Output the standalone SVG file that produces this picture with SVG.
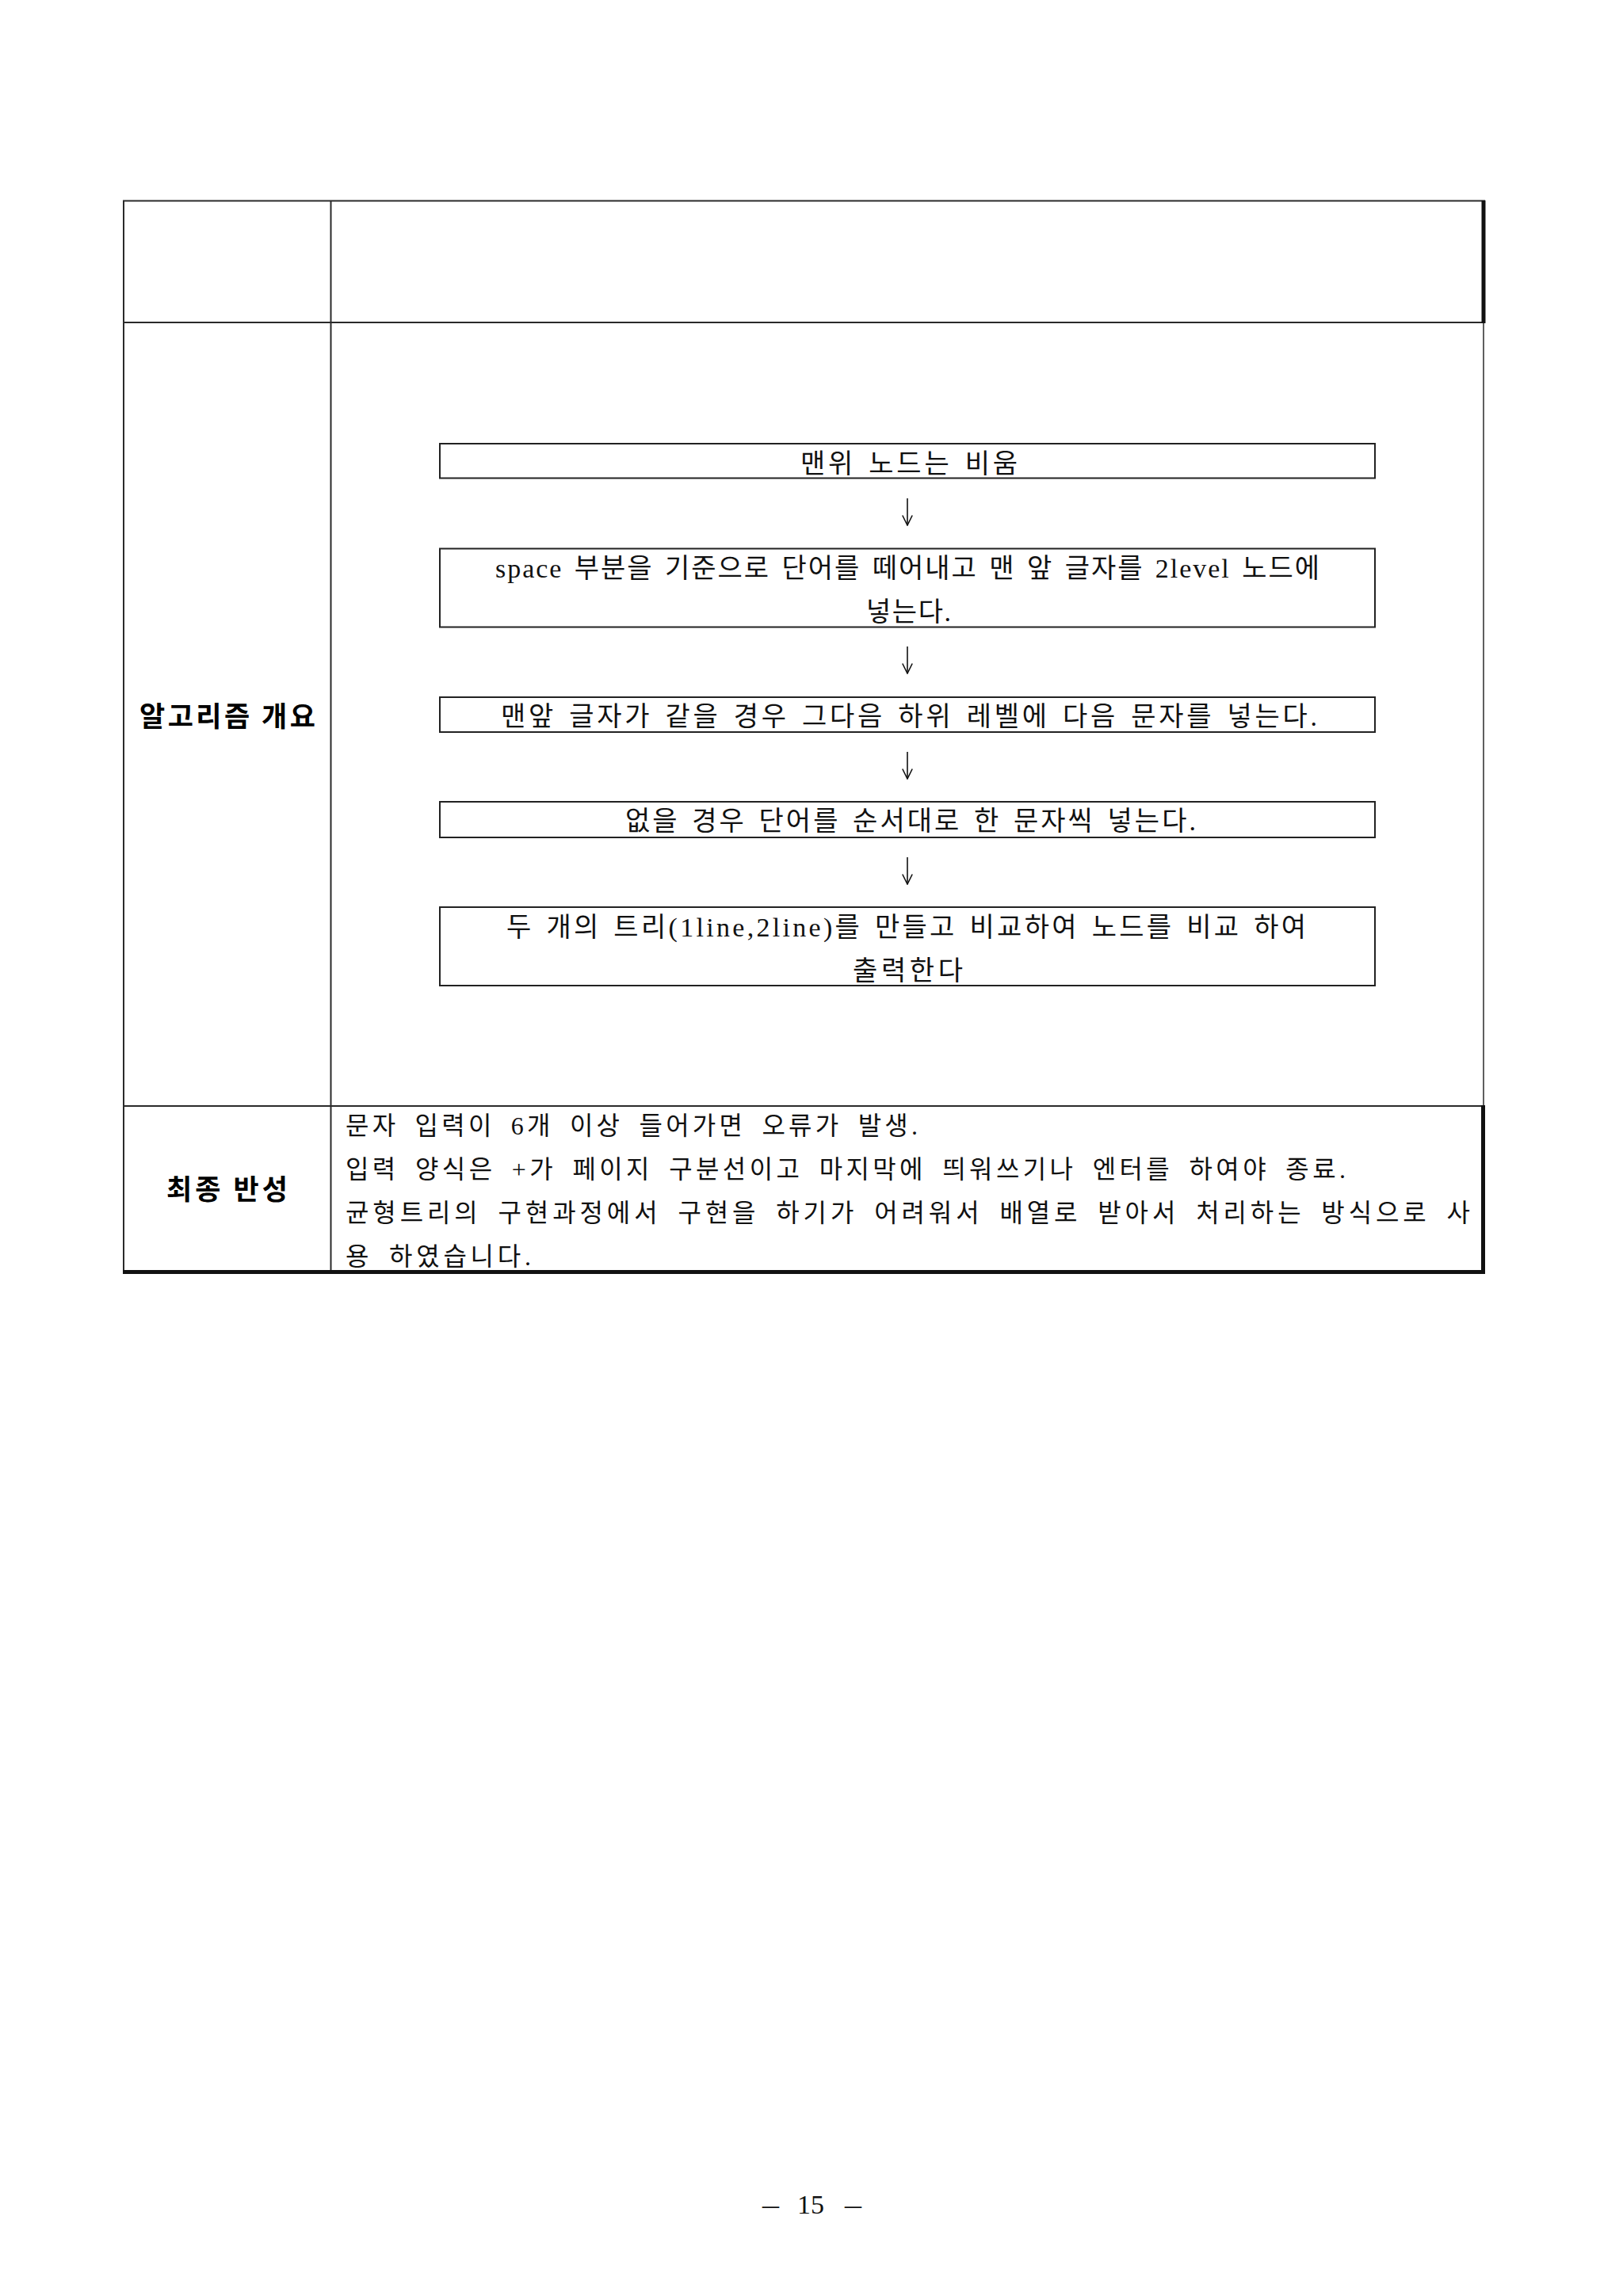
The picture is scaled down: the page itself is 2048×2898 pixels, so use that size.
<svg xmlns="http://www.w3.org/2000/svg" width="2048" height="2898" viewBox="0 0 2048 2898">
<style>
.bg{fill:#ffffff}
.grid{stroke:#2a2a2a;stroke-width:2;fill:none}
.thick{fill:#111111}
.box{fill:#ffffff;stroke:#222222;stroke-width:2}
.t{font-family:"Liberation Serif","Noto Sans CJK KR",serif;font-size:34px;fill:#111111;word-spacing:4px}
.r{font-family:"Liberation Serif","Noto Sans CJK KR",serif;font-size:32px;fill:#111111;word-spacing:8px}
.lbl{font-family:"Noto Sans CJK KR","Noto Sans",sans-serif;font-size:35px;font-weight:bold;fill:#000000}
.pg{font-family:"Liberation Serif",serif;font-size:34px;fill:#111111}
.conn{stroke:#111111;stroke-width:1.6;fill:none}
</style>
<defs>
<marker id="vhead" markerUnits="userSpaceOnUse" viewBox="0 0 14 14" refX="7" refY="13" markerWidth="14" markerHeight="14" orient="0">
<path d="M0.8,0.5 L7,13 L13.2,0.5" fill="none" stroke="#111111" stroke-width="1.6"/>
</marker>
</defs>
<rect class="bg" x="0" y="0" width="2048" height="2898"/>

<g id="table">
<line class="grid" x1="155" y1="253.5" x2="1874" y2="253.5"/>
<line class="grid" x1="156" y1="253" x2="156" y2="1606"/>
<line class="grid" x1="417.5" y1="253" x2="417.5" y2="1604"/>
<line class="grid" x1="155" y1="407" x2="1872" y2="407"/>
<line class="grid" x1="155" y1="1396" x2="1872" y2="1396"/>
<line x1="1872" y1="407" x2="1872" y2="1396" stroke="#2a2a2a" stroke-width="1.5"/>
<rect class="thick" x="1869.5" y="253" width="5" height="155"/>
<rect class="thick" x="1869" y="1395" width="5" height="213"/>
<rect class="thick" x="155" y="1603" width="1719" height="5"/>
</g>

<g id="label-algorithm">
<text class="lbl" x="176" y="917" textLength="222" lengthAdjust="spacing">알고리즘 개요</text>
</g>
<g id="label-reflection">
<text class="lbl" x="210" y="1514" textLength="153" lengthAdjust="spacing">최종 반성</text>
</g>

<g id="node1">
<rect class="box" x="555" y="560" width="1180" height="43.5"/>
<text class="t" x="1010" y="597" textLength="274" lengthAdjust="spacing">맨위 노드는 비움</text>
</g>
<g id="node2">
<rect class="box" x="555" y="692.5" width="1180" height="99"/>
<text class="t" x="625" y="729" textLength="1040" lengthAdjust="spacing">space 부분을 기준으로 단어를 떼어내고 맨 앞 글자를 2level 노드에</text>
<text class="t" x="1093" y="784" textLength="107" lengthAdjust="spacing">넣는다.</text>
</g>
<g id="node3">
<rect class="box" x="555" y="880" width="1180" height="44"/>
<text class="t" x="632" y="916" textLength="1030" lengthAdjust="spacing">맨앞 글자가 같을 경우 그다음 하위 레벨에 다음 문자를 넣는다.</text>
</g>
<g id="node4">
<rect class="box" x="555" y="1012" width="1180" height="45"/>
<text class="t" x="789" y="1048" textLength="720" lengthAdjust="spacing">없을 경우 단어를 순서대로 한 문자씩 넣는다.</text>
</g>
<g id="node5">
<rect class="box" x="555" y="1145" width="1180" height="99"/>
<text class="t" x="639" y="1182" textLength="1009" lengthAdjust="spacing">두 개의 트리(1line,2line)를 만들고 비교하여 노드를 비교 하여</text>
<text class="t" x="1076" y="1237" textLength="139" lengthAdjust="spacing">출력한다</text>
</g>

<g id="connectors">
<line class="conn" x1="1145" y1="629" x2="1145" y2="663" marker-end="url(#vhead)"/>
<line class="conn" x1="1145" y1="816" x2="1145" y2="850" marker-end="url(#vhead)"/>
<line class="conn" x1="1145" y1="949" x2="1145" y2="983" marker-end="url(#vhead)"/>
<line class="conn" x1="1145" y1="1082" x2="1145" y2="1116" marker-end="url(#vhead)"/>
</g>

<g id="reflection-text">
<text class="r" x="436" y="1432" textLength="722" lengthAdjust="spacing">문자 입력이 6개 이상 들어가면 오류가 발생.</text>
<text class="r" x="436" y="1487" textLength="1262" lengthAdjust="spacing">입력 양식은 +가 페이지 구분선이고 마지막에 띄워쓰기나 엔터를 하여야 종료.</text>
<text class="r" x="436" y="1542" textLength="1419" lengthAdjust="spacing">균형트리의 구현과정에서 구현을 하기가 어려워서 배열로 받아서 처리하는 방식으로 사</text>
<text class="r" x="436" y="1597" textLength="234" lengthAdjust="spacing">용 하였습니다.</text>
</g>

<g id="page-number">
<text class="pg" x="962" y="2794" textLength="21" lengthAdjust="spacingAndGlyphs">–</text>
<text class="pg" x="1006" y="2794">15</text>
<text class="pg" x="1066" y="2794" textLength="21" lengthAdjust="spacingAndGlyphs">–</text>
</g>
</svg>
